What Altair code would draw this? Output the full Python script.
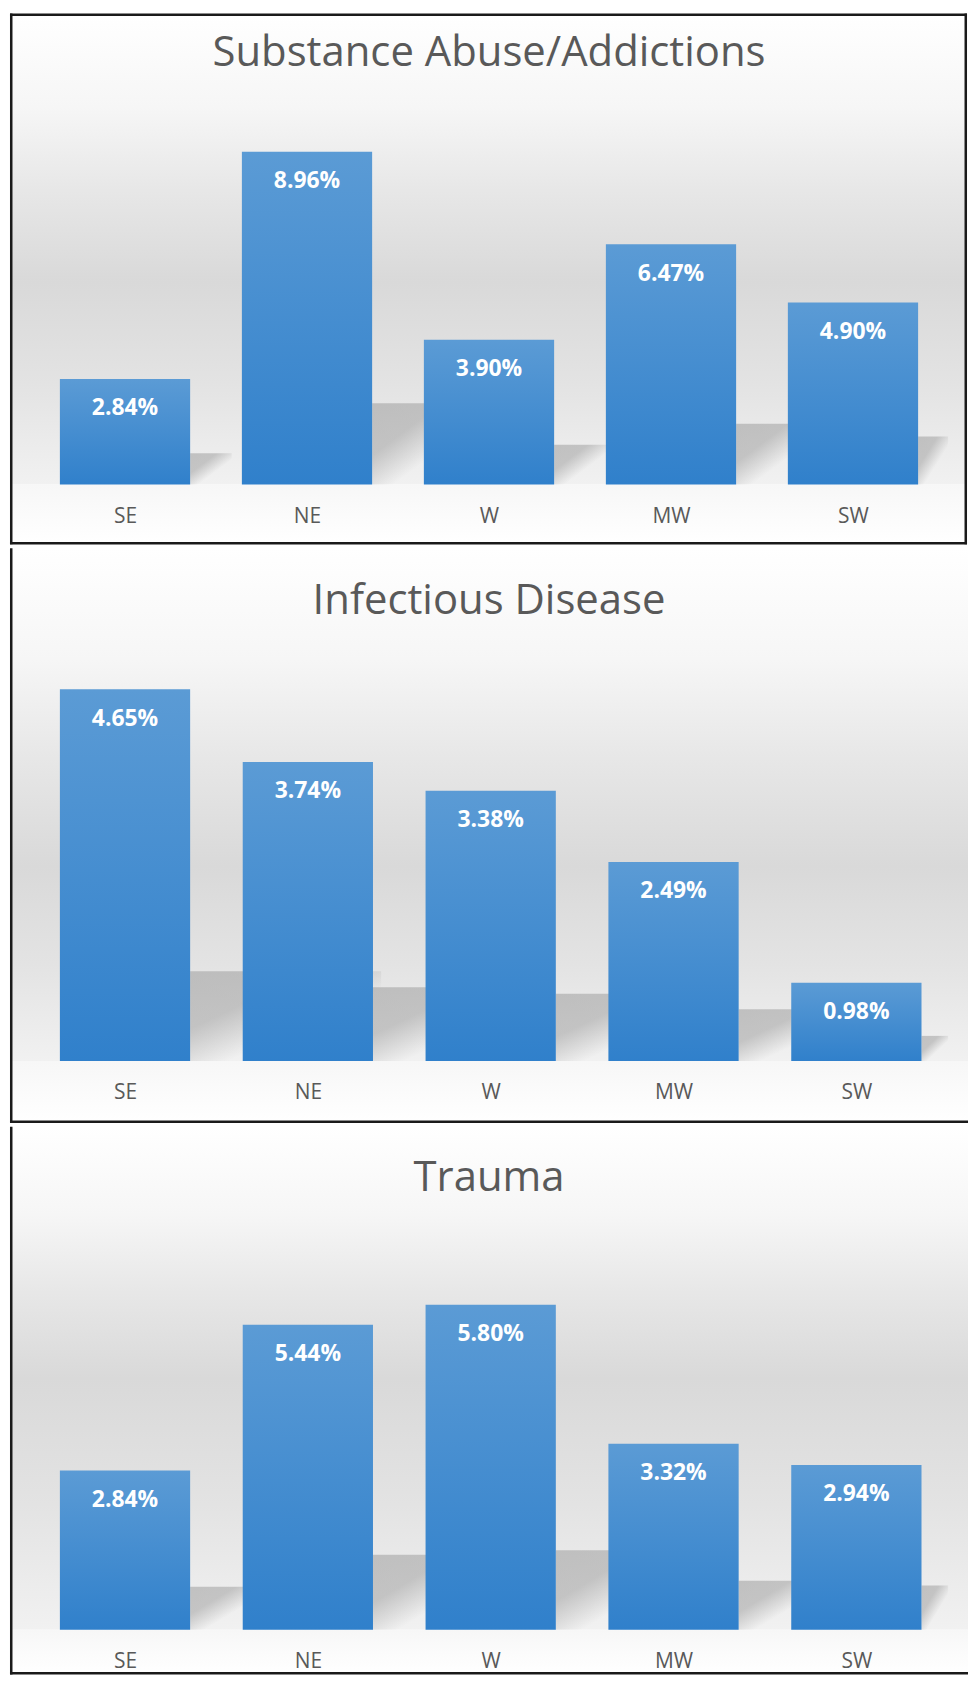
import altair as alt
import pandas as pd

# ---- data ----
regions = ["SE", "NE", "W", "MW", "SW"]
titles = ["Substance Abuse/Addictions", "Infectious Disease", "Trauma"]
substance = [2.84, 8.96, 3.90, 6.47, 4.90]
infectious = [4.65, 3.74, 3.38, 2.49, 0.98]
trauma = [2.84, 5.44, 5.80, 3.32, 2.94]

FONT = "Open Sans"
TEXT = "#595959"
BORDER = "#1a1a1a"
LABEL_EXPR = "[" + ",".join("'%s'" % r for r in regions) + "][datum.value]"

BAR_GRAD = alt.LinearGradient(
    gradient="linear", x1=0, x2=0, y1=0, y2=1,
    stops=[alt.GradientStop(color="#5b9bd5", offset=0),
           alt.GradientStop(color="#3080cb", offset=1)])

SHADOW_GRAD = alt.LinearGradient(
    gradient="linear", x1=0, y1=0, x2=1, y2=1,
    stops=[alt.GradientStop(color="rgba(150,150,150,0.5)", offset=0),
           alt.GradientStop(color="rgba(150,150,150,0.48)", offset=0.32),
           alt.GradientStop(color="rgba(150,150,150,0)", offset=0.6)])


def bg_grad(dark):
    return alt.LinearGradient(
        gradient="linear", x1=0, x2=0, y1=0, y2=1,
        stops=[alt.GradientStop(color="#ffffff", offset=0),
               alt.GradientStop(color="#f6f6f6", offset=dark * 0.35),
               alt.GradientStop(color="#e7e7e7", offset=dark * 0.66),
               alt.GradientStop(color="#d9d9d9", offset=dark),
               alt.GradientStop(color="#e3e3e3", offset=dark + (1 - dark) * 0.5),
               alt.GradientStop(color="#f1f1f1", offset=1)])


FLOOR_GRAD = alt.LinearGradient(
    gradient="linear", x1=0, x2=0, y1=0, y2=1,
    stops=[alt.GradientStop(color="#f7f7f7", offset=0),
           alt.GradientStop(color="#ffffff", offset=1)])


def panel(title, values, w, h, base_px, ppp, step, c0, slope, title_y, dark,
          right_border, top_border, bottom_y):
    ymax = base_px / ppp
    ymin = -(h - base_px) / ppp
    xmin = (0 - c0) / step
    xmax = (w - c0) / step
    hw = 65.4 / step
    clip_px = 942
    clip_idx = (clip_px - c0) / step

    df = pd.DataFrame({"region": regions, "idx": list(range(len(regions))),
                       "value": values})
    one = pd.DataFrame({"t": [title]})

    xs = alt.Scale(domain=[xmin, xmax], nice=False, zero=False)
    ys = alt.Scale(domain=[ymin, ymax], nice=False, zero=False)
    x_axis = alt.Axis(values=list(range(len(regions))), labelExpr=LABEL_EXPR,
                      title=None, domain=False, ticks=False, tickSize=0,
                      grid=False, labelFont=FONT, labelFontSize=21,
                      labelColor=TEXT, labelPadding=32, labelBaseline="middle",
                      labelFlush=False, labelOverlap=False, zindex=2,
                      offset=-(h - base_px))

    base = alt.Chart(df)

    bg = alt.Chart(one).mark_rect(color=bg_grad(dark)).encode(
        x=alt.value(0), x2=alt.value(w), y=alt.value(0), y2=alt.value(base_px))
    floor = alt.Chart(one).mark_rect(color=FLOOR_GRAD).encode(
        x=alt.value(0), x2=alt.value(w), y=alt.value(base_px), y2=alt.value(h))

    shadow = base.transform_calculate(
        sx0="datum.idx + %f" % hw,
        sx1="min(datum.idx + %f + (0.22*datum.value*%f + 8)/%f, %f)"
            % (hw, ppp, slope * step, clip_idx),
        sy="0.22*datum.value + %f" % (8.0 / ppp),
    ).mark_rect(color=SHADOW_GRAD).encode(
        x=alt.X("sx0:Q", scale=xs, axis=x_axis),
        x2="sx1:Q",
        y=alt.Y("sy:Q", scale=ys, axis=None),
        y2=alt.datum(0),
    )

    bars = base.transform_calculate(
        x0="datum.idx - %f" % hw, x1="datum.idx + %f" % hw
    ).mark_rect(color=BAR_GRAD).encode(
        x=alt.X("x0:Q", scale=xs, axis=x_axis),
        x2="x1:Q",
        y=alt.Y("value:Q", scale=ys, axis=None),
        y2=alt.datum(0),
    )

    labels = base.transform_calculate(
        label="format(datum.value, '.2f') + '%'"
    ).mark_text(font=FONT, fontSize=23, fontWeight="bold", color="white",
                baseline="middle", dy=29.5).encode(
        x=alt.X("idx:Q", scale=xs, axis=x_axis),
        y=alt.Y("value:Q", scale=ys, axis=None),
        text="label:N",
    )

    ttl = alt.Chart(one).mark_text(font=FONT, fontSize=42, color=TEXT,
                                   baseline="middle").encode(
        x=alt.value(481), y=alt.value(title_y), text="t:N")

    layers = [bg, floor, shadow, bars, labels, ttl]

    rule_style = dict(color=BORDER, strokeWidth=2.5)
    layers.append(alt.Chart(one).mark_rule(**rule_style).encode(
        x=alt.value(1.25), y=alt.value(0), y2=alt.value(h)))
    layers.append(alt.Chart(one).mark_rule(**rule_style).encode(
        x=alt.value(0), x2=alt.value(w), y=alt.value(bottom_y)))
    if top_border:
        layers.append(alt.Chart(one).mark_rule(**rule_style).encode(
            x=alt.value(0), x2=alt.value(w), y=alt.value(1.25)))
    if right_border:
        layers.append(alt.Chart(one).mark_rule(**rule_style).encode(
            x=alt.value(w - 1.25), y=alt.value(0), y2=alt.value(h)))

    return alt.layer(*layers).properties(width=w, height=h)


p1 = panel(titles[0], substance, w=961, h=533, base_px=473, ppp=37.28,
           step=182.75, c0=115.5, slope=0.75, title_y=40, dark=0.57,
           right_border=True, top_border=True, bottom_y=532)
p2 = panel(titles[1], infectious, w=962, h=577, base_px=515, ppp=80.3,
           step=183.6, c0=115.5, slope=0.47, title_y=53, dark=0.62,
           right_border=False, top_border=False, bottom_y=576)
p3 = panel(titles[2], trauma, w=962, h=550, base_px=505, ppp=56.28,
           step=183.6, c0=115.5, slope=0.6, title_y=51, dark=0.5,
           right_border=False, top_border=False, bottom_y=548.75)

chart = alt.vconcat(p1, p2, p3, spacing=0).properties(
    padding=0, background="white"
).configure_view(stroke=None)

chart.save("out.html", embed_options={"renderer": "svg", "actions": False})
